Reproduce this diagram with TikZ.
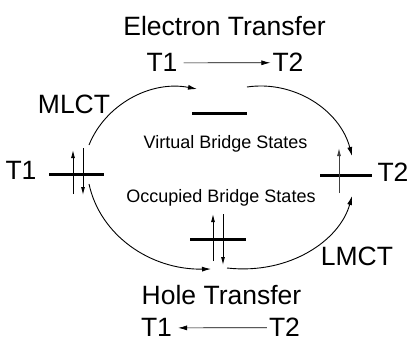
\documentclass[tikz,border=0pt]{standalone}
\usepackage{fontspec}
\setmainfont{Liberation Sans}
\usetikzlibrary{arrows.meta}
\tikzset{
  big/.style={font=\fontsize{26.5bp}{30bp}\selectfont, inner sep=0pt, anchor=base},
  small/.style={font=\fontsize{18bp}{20bp}\selectfont, inner sep=0pt, anchor=base},
  level/.style={line width=3bp},
  spin/.style={line width=0.9bp, -{Latex[length=8bp,width=4bp]}},
  hop/.style={line width=0.9bp, -{Latex[length=9bp,width=5bp]}}
}
\begin{document}
\begin{tikzpicture}[x=1bp,y=-1bp]
\useasboundingbox (0,0) rectangle (414,342);
\node[big] (etitle) at (224.5,35) {Electron Transfer};
\node[big] (et1) at (162,71) {T1};
\node[big] (et2) at (288,71) {T2};
\node[big] (mlct) at (74,113) {MLCT};
\node[small] (virt) at (225.5,148) {Virtual Bridge States};
\node[big] (lt1) at (21,179) {T1};
\node[big] (rt2) at (393,181) {T2};
\node[small] (occ) at (221,202) {Occupied Bridge States};
\node[big] (lmct) at (357,265) {LMCT};
\node[big] (htitle) at (221.5,304) {Hole Transfer};
\node[big] (ht1) at (156.5,336) {T1};
\node[big] (ht2) at (284.5,336) {T2};
\draw[hop, line width=0.7bp] ([xshift=6bp,yshift=-1bp]et1.east) -- ([xshift=-2bp,yshift=-1bp]et2.west);
\draw[hop, line width=0.7bp] ([xshift=-2bp,yshift=-1bp]ht2.west) -- ([xshift=6bp,yshift=-1bp]ht1.east);
\draw[level] (49,174) -- (104,174);
\draw[level] (192,113) -- (247,113);
\draw[level] (320,175) -- (372,175);
\draw[level] (190,239) -- (246,239);
\draw[spin] (73,194) -- (73,150);
\draw[spin] (83,148) -- (83,195);
\draw[spin, black!75] (339,193) -- (339,148);
\draw[spin] (213,261) -- (213,214);
\draw[spin] (223,214) -- (223,265);
\coordinate (ul) at (89,145);
\coordinate (ur) at (352,156);
\coordinate (ll) at (89,184);
\coordinate (lr) at (352,196);
\coordinate (vl) at (197,89);
\coordinate (vr) at (247,87);
\coordinate (ol) at (211,269);
\coordinate (or) at (227,268);
\draw[hop] (ul) .. controls (105,105) and (150,80) .. (vl);
\draw[hop] (vr) .. controls (294,80) and (340,110) .. (ur);
\draw[hop] (ll) .. controls (100,235) and (150,270) .. (ol);
\draw[hop] (or) .. controls (290,275) and (340,240) .. (lr);
\end{tikzpicture}
\end{document}
